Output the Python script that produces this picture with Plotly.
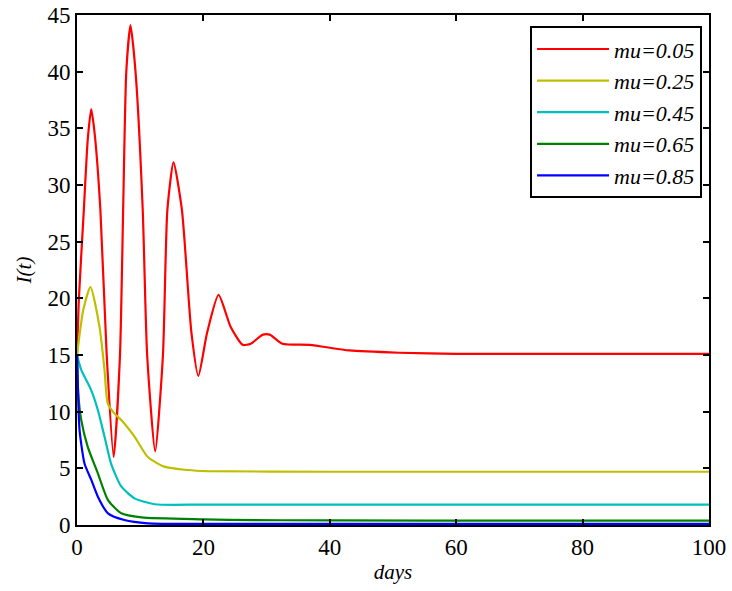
import plotly.graph_objects as go

# ---- data ----
red_days = [0, 0.3, 1.08, 1.7, 2.25, 2.8, 3.7, 4.7, 5.8, 6.8, 7.3, 7.8, 8.46, 9.26, 10.4, 11.1,
            12.37, 13.6, 14.3, 15.27, 16.6, 18.1, 19.2, 20.6, 22.4, 24.3, 26.2, 27.5, 29.4, 30.5,
            32.5, 36.8, 43.1, 51, 60, 80, 100]
red_vals = [15, 20, 27.8, 34, 36.7, 34.5, 27.8, 15, 6.0, 15, 27.8, 40, 44.1, 40, 27.8, 15,
            6.5, 15, 27.8, 32, 27.8, 17, 13.15, 17, 20.3, 17.5, 15.9, 16.0, 16.8, 16.8,
            16.0, 15.9, 15.4, 15.2, 15.1, 15.1, 15.1]

yel_days = [0, 1, 2.14, 3.56, 4.35, 4.88, 5.9, 7.0, 9.1, 11.2, 13.8, 17.5, 20.6, 40, 70, 100]
yel_vals = [15, 19, 21, 17.5, 13.7, 10.7, 9.85, 9.27, 7.8, 6.0, 5.15, 4.85, 4.75, 4.7, 4.7, 4.7]

cyn_days = [0, 0.66, 2.24, 3.3, 4.35, 5.4, 7.0, 9.1, 12.3, 20, 40, 70, 100]
cyn_vals = [15, 13.7, 11.9, 10.15, 7.8, 5.4, 3.4, 2.35, 1.83, 1.8, 1.8, 1.8, 1.8]

grn_days = [0, 0.2, 0.66, 1.7, 3.3, 4.9, 7.0, 10.2, 20, 24, 40, 70, 100]
grn_vals = [15, 11.6, 9.3, 6.9, 4.56, 2.2, 1.03, 0.68, 0.5, 0.45, 0.4, 0.38, 0.38]

blu_days = [0, 0.1, 0.4, 1.2, 2.25, 3.3, 4.9, 7.5, 11.2, 20, 40, 70, 100]
blu_vals = [15, 13, 8.4, 5.4, 4.0, 2.5, 1.03, 0.44, 0.15, 0.1, 0.1, 0.1, 0.1]

labels = ["mu=0.05", "mu=0.25", "mu=0.45", "mu=0.65", "mu=0.85"]
colors = ["#FF0000", "#BFBF00", "#00BFBF", "#008000", "#0000FF"]
series = [(red_days, red_vals), (yel_days, yel_vals), (cyn_days, cyn_vals),
          (grn_days, grn_vals), (blu_days, blu_vals)]

x_ticks = [0, 20, 40, 60, 80, 100]
y_ticks = [0, 5, 10, 15, 20, 25, 30, 35, 40, 45]

FONT = "Liberation Serif"

fig = go.Figure()
for (xd, yd), name, col in zip(series, labels, colors):
    fig.add_trace(go.Scatter(x=xd, y=yd, mode="lines", name=name,
                             line=dict(color=col, width=2.2, shape="spline", smoothing=0.6)))

axis_common = dict(showline=True, linecolor="black", linewidth=2, mirror="ticks",
                   ticks="inside", ticklen=6, tickwidth=2, tickcolor="black",
                   showgrid=False, zeroline=False, automargin=False,
                   tickfont=dict(family=FONT, size=23, color="black"))

fig.update_xaxes(range=[0, 100], tickvals=x_ticks,
                 title=dict(text="days", font=dict(family=FONT, size=21, style="italic", color="black"),
                            standoff=6),
                 **axis_common)
fig.update_yaxes(range=[0, 45], tickvals=y_ticks,
                 title=dict(text="I(t)", font=dict(family=FONT, size=21, style="italic", color="black"),
                            standoff=10),
                 **axis_common)

fig.update_layout(
    width=732, height=591,
    margin=dict(l=77, r=23, t=15, b=66),
    paper_bgcolor="white", plot_bgcolor="white",
    showlegend=True,
    legend=dict(x=0.989, y=0.978, xanchor="right", yanchor="top",
                bgcolor="white", bordercolor="black", borderwidth=2,
                font=dict(family=FONT, size=22, style="italic", color="black"),
                tracegroupgap=0, itemwidth=72),
)

fig.write_html("out.html", config={"displayModeBar": False},
               post_script="document.body.style.margin='0';document.body.style.padding='0';")
